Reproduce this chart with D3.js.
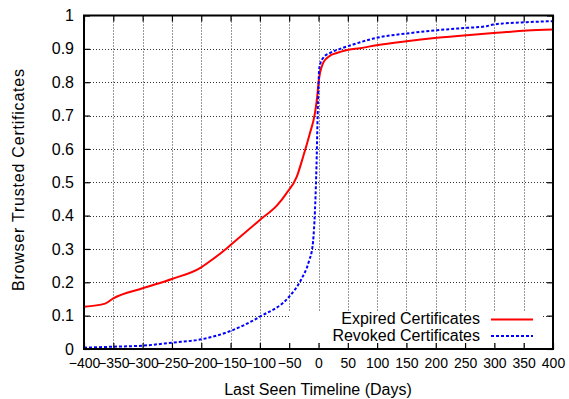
<!DOCTYPE html>
<html>
<head>
<meta charset="utf-8">
<script src="https://cdn.jsdelivr.net/npm/d3@7"></script>
<style>
  html, body { margin: 0; padding: 0; background: #fff; }
  svg { display: block; font-family: "Liberation Sans", Arial, sans-serif; }
</style>
</head>
<body>
<svg id="chart" width="569" height="399"></svg>
<script>
// Tick values
const xTicks = [-400, -350, -300, -250, -200, -150, -100, -50, 0, 50, 100, 150, 200, 250, 300, 350, 400];
const yTicks = [0, 0.1, 0.2, 0.3, 0.4, 0.5, 0.6, 0.7, 0.8, 0.9, 1];

// Expired certificates: share still browser-trusted vs. days since last seen
const expiredDays = [-400, -364, -350, -300, -250, -200, -190, -160, -150, -100, -70, -55, -37, -26, -15, -6, -2, 0, 2.6, 8, 14, 20, 25, 37, 51, 71, 99, 150, 202, 253, 304, 355, 400];
const expiredValues = [0.127, 0.136, 0.152, 0.182, 0.21, 0.245, 0.257, 0.297, 0.312, 0.387, 0.432, 0.466, 0.517, 0.578, 0.645, 0.708, 0.76, 0.798, 0.828, 0.858, 0.872, 0.88, 0.884, 0.891, 0.897, 0.902, 0.911, 0.923, 0.933, 0.941, 0.948, 0.955, 0.958];

// Revoked certificates
const revokedDays = [-400, -350, -300, -250, -200, -150, -100, -50, -30, -16, -10, -7, -5, -3, -1.5, 0, 1, 3, 8, 20, 37, 59, 99, 150, 202, 253, 287, 298, 355, 400];
const revokedValues = [0.004, 0.007, 0.01, 0.019, 0.029, 0.054, 0.097, 0.157, 0.207, 0.265, 0.31, 0.38, 0.46, 0.58, 0.70, 0.79, 0.835, 0.855, 0.873, 0.888, 0.90, 0.913, 0.933, 0.946, 0.956, 0.963, 0.968, 0.973, 0.98, 0.983];

const seriesNames = ["Expired Certificates", "Revoked Certificates"];

const svg = d3.select("#chart");
const plotLeft = 84, plotRight = 553, plotTop = 15.5, plotBottom = 349;

const x = d3.scaleLinear().domain([-400, 400]).range([plotLeft, plotRight]);
const y = d3.scaleLinear().domain([0, 1]).range([plotBottom, plotTop]);

const fmtY = d => String(+d.toFixed(1));

// Grid lines
const grid = svg.append("g").attr("stroke", "#333").attr("stroke-width", 1)
  .attr("stroke-dasharray", "1,2").attr("fill", "none");
xTicks.slice(1, -1).forEach(t => {
  grid.append("line").attr("x1", Math.round(x(t)) + 0.5).attr("x2", Math.round(x(t)) + 0.5)
    .attr("y1", plotTop).attr("y2", plotBottom);
});
yTicks.slice(1, -1).forEach(t => {
  grid.append("line").attr("y1", Math.round(y(t)) + 0.5).attr("y2", Math.round(y(t)) + 0.5)
    .attr("x1", plotLeft).attr("x2", plotRight);
});

// Opaque key area
svg.append("rect").attr("x", 289).attr("y", 312).attr("width", 254).attr("height", 31).attr("fill", "#fff");

// Curves
const line = d3.line().x(d => x(d[0])).y(d => y(d[1])).curve(d3.curveMonotoneX);
svg.append("path")
  .datum(expiredDays.map((d, i) => [d, expiredValues[i]]))
  .attr("d", line).attr("fill", "none").attr("stroke", "#ff0000").attr("stroke-width", 2);
svg.append("path")
  .datum(revokedDays.map((d, i) => [d, revokedValues[i]]))
  .attr("d", line).attr("fill", "none").attr("stroke", "#0000ff").attr("stroke-width", 2)
  .attr("stroke-dasharray", "3,2");

// Axes (ticks inside, mirrored)
const tickLen = 6;
const axB = svg.append("g").attr("transform", `translate(0,${plotBottom})`)
  .call(d3.axisBottom(x).tickValues(xTicks).tickSizeInner(-tickLen).tickSizeOuter(0).tickPadding(9).tickFormat(d3.format("d")));
const axT = svg.append("g").attr("transform", `translate(0,${plotTop})`)
  .call(d3.axisTop(x).tickValues(xTicks).tickSizeInner(-tickLen).tickSizeOuter(0).tickFormat(""));
const axL = svg.append("g").attr("transform", `translate(${plotLeft},0)`)
  .call(d3.axisLeft(y).tickValues(yTicks).tickSizeInner(-tickLen).tickSizeOuter(0).tickPadding(10).tickFormat(fmtY));
const axR = svg.append("g").attr("transform", `translate(${plotRight},0)`)
  .call(d3.axisRight(y).tickValues(yTicks).tickSizeInner(-tickLen).tickSizeOuter(0).tickFormat(""));
[axB, axT, axL, axR].forEach(a => {
  a.select(".domain").remove();
  a.selectAll(".tick line").attr("stroke", "#000").attr("stroke-width", 1.2);
  a.selectAll("text").attr("font-size", 16).attr("fill", "#000")
    .attr("font-family", "'Liberation Sans', Arial, sans-serif");
});
axB.selectAll("text").attr("dy", "0.71em").attr("font-size", 14);

// Frame
svg.append("rect").attr("x", plotLeft).attr("y", plotTop).attr("width", plotRight - plotLeft).attr("height", plotBottom - plotTop)
  .attr("fill", "none").attr("stroke", "#000").attr("stroke-width", 2);

// Key
const keyStyles = [
  { color: "#ff0000", dash: null, y: 319.5, base: 323.5 },
  { color: "#0000ff", dash: "3,2", y: 336, base: 340.5 }
];
seriesNames.forEach((name, i) => {
  const k = keyStyles[i];
  svg.append("text").attr("x", 480).attr("y", k.base).attr("text-anchor", "end")
    .attr("font-size", 16).attr("fill", "#000").text(name);
  svg.append("line").attr("x1", 491).attr("x2", 533).attr("y1", k.y).attr("y2", k.y)
    .attr("stroke", k.color).attr("stroke-width", 2).attr("stroke-dasharray", k.dash);
});

// Axis titles
svg.append("text").attr("x", 318).attr("y", 394.5).attr("text-anchor", "middle")
  .attr("font-size", 16).attr("fill", "#000").text("Last Seen Timeline (Days)");
svg.append("text").attr("transform", `translate(24,180) rotate(-90)`)
  .attr("text-anchor", "middle").attr("font-size", 16).attr("fill", "#000")
  .attr("textLength", 222).attr("lengthAdjust", "spacing")
  .text("Browser Trusted Certificates");
</script>
</body>
</html>
